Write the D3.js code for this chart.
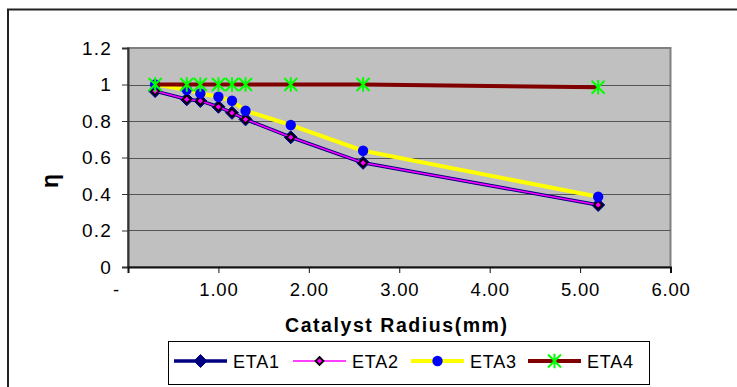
<!DOCTYPE html>
<html>
<head>
<meta charset="utf-8">
<script src="https://cdn.jsdelivr.net/npm/d3@7"></script>
<style>
  html, body { margin: 0; padding: 0; background: #fff; }
  svg { display: block; font-family: Arial, "Liberation Sans", sans-serif; }
</style>
</head>
<body>
<div id="chart"></div>
<script>
// data
const radius = [0.3, 0.65, 0.8, 1.0, 1.15, 1.3, 1.8, 2.6, 5.2];
const eta1 = [0.964, 0.919, 0.91, 0.878, 0.845, 0.809, 0.711, 0.571, 0.34];
const eta2 = [0.964, 0.919, 0.91, 0.878, 0.845, 0.809, 0.711, 0.571, 0.34];
const eta3 = [1.0, 0.971, 0.951, 0.933, 0.911, 0.856, 0.778, 0.637, 0.385];
const eta4 = [1.0, 1.0, 1.0, 1.0, 1.0, 1.0, 1.0, 1.0, 0.985];
const seriesNames = ['ETA1', 'ETA2', 'ETA3', 'ETA4'];
const yTicks = [0, 0.2, 0.4, 0.6, 0.8, 1.0, 1.2];
const xTicks = [0, 1, 2, 3, 4, 5, 6];

const width = 737;
const height = 387;

const svg = d3.select('#chart')
  .append('svg')
  .attr('width', width)
  .attr('height', height);

// outer chart border (cut off right and bottom)
svg.append('rect')
  .attr('x', 8).attr('y', 9.5)
  .attr('width', 760).attr('height', 400)
  .attr('fill', '#fff')
  .attr('stroke', '#222')
  .attr('stroke-width', 2);

const x = d3.scaleLinear().domain([0, 6]).range([128, 670.5]);
const y = d3.scaleLinear().domain([0, 1.2]).range([267, 48]);

// plot area
svg.append('rect')
  .attr('x', x(0)).attr('y', y(1.2))
  .attr('width', x(6) - x(0)).attr('height', y(0) - y(1.2))
  .attr('fill', '#c0c0c0')
  .attr('stroke', '#808080')
  .attr('stroke-width', 2);

// gridlines
svg.append('g')
  .selectAll('line')
  .data(yTicks.filter(d => d > 0 && d < 1.2))
  .join('line')
  .attr('x1', x(0)).attr('x2', x(6))
  .attr('y1', d => Math.round(y(d)) + 0.5)
  .attr('y2', d => Math.round(y(d)) + 0.5)
  .attr('stroke', '#555')
  .attr('stroke-width', 1);

// axes
const yAxis = svg.append('g')
  .attr('transform', `translate(${x(0)},0)`)
  .call(d3.axisLeft(y).tickValues(yTicks).tickSize(6).tickPadding(10)
    .tickFormat(d => d === 0 ? '0' : d3.format('~g')(d)));
yAxis.select('.domain').attr('stroke', '#333').attr('stroke-width', 2);
yAxis.selectAll('.tick line').attr('stroke', '#333');
yAxis.selectAll('.tick text')
  .attr('font-size', 19)
  .attr('letter-spacing', 1.2)
  .attr('fill', '#000');

const xAxis = svg.append('g')
  .attr('transform', `translate(0,${y(0)})`)
  .call(d3.axisBottom(x).tickValues(xTicks).tickSize(6).tickPadding(10)
    .tickFormat(d => d === 0 ? '-' : d.toFixed(2)));
xAxis.select('.domain').attr('stroke', '#111').attr('stroke-width', 2);
xAxis.selectAll('.tick line').attr('stroke', '#111');
xAxis.selectAll('.tick text')
  .attr('font-size', 18.5)
  .attr('letter-spacing', 0.8)
  .attr('fill', '#000')
  .attr('dx', d => d === 0 ? -12 : 0);

// axis titles
svg.append('text')
  .attr('x', 285).attr('y', 332)
  .attr('font-size', 19.5)
  .attr('font-weight', 'bold')
  .attr('textLength', 222)
  .attr('lengthAdjust', 'spacing')
  .text('Catalyst Radius(mm)');

svg.append('text')
  .attr('transform', 'translate(58,181) rotate(-90)')
  .attr('text-anchor', 'middle')
  .attr('font-size', 23)
  .attr('font-weight', 'bold')
  .text('η');

// series styles
const styles = [
  { name: seriesNames[0], values: eta1, line: '#000080', lw: 3.5, marker: 'diamond', size: 6.5, fill: '#000080', stroke: '#000080' },
  { name: seriesNames[1], values: eta2, line: '#ff00ff', lw: 1.6, marker: 'diamond', size: 4, fill: '#ff00ff', stroke: '#000' },
  { name: seriesNames[2], values: eta3, line: '#ffff00', lw: 4, marker: 'circle', size: 5.2, fill: '#0000ff', stroke: '#0000ff' },
  { name: seriesNames[3], values: eta4, line: '#800000', lw: 4, marker: 'star', size: 6.5, fill: 'none', stroke: '#00ff00' }
];

const line = d3.line()
  .x(d => x(d[0]))
  .y(d => y(d[1]));

function drawMarker(g, s, cx, cy) {
  if (s.marker === 'diamond') {
    const r = s.size;
    g.append('path')
      .attr('d', `M${cx},${cy - r}L${cx + r},${cy}L${cx},${cy + r}L${cx - r},${cy}Z`)
      .attr('fill', s.fill)
      .attr('stroke', s.stroke)
      .attr('stroke-width', s.stroke === '#000' ? 1.8 : 1);
  } else if (s.marker === 'circle') {
    g.append('circle')
      .attr('cx', cx).attr('cy', cy).attr('r', s.size)
      .attr('fill', s.fill);
  } else {
    const r = s.size;
    g.append('path')
      .attr('d', `M${cx - r},${cy - r}L${cx + r},${cy + r}M${cx - r},${cy + r}L${cx + r},${cy - r}M${cx},${cy - r * 1.1}L${cx},${cy + r * 1.1}`)
      .attr('stroke', s.stroke)
      .attr('stroke-width', 2)
      .attr('fill', 'none');
  }
}

const plot = svg.append('g');
styles.forEach(s => {
  const pts = radius.map((r, i) => [r, s.values[i]]);
  const g = plot.append('g');
  g.append('path')
    .attr('d', line(pts))
    .attr('fill', 'none')
    .attr('stroke', s.line)
    .attr('stroke-width', s.lw)
    .attr('stroke-linejoin', 'round');
  pts.forEach(p => drawMarker(g, s, x(p[0]), y(p[1])));
});

// legend
const legend = svg.append('g');
legend.append('rect')
  .attr('x', 168.5).attr('y', 341.5)
  .attr('width', 481).attr('height', 43)
  .attr('fill', '#fff')
  .attr('stroke', '#000')
  .attr('stroke-width', 1);

const legendX = [174, 293, 411, 528];
styles.forEach((s, i) => {
  const lx = legendX[i];
  const ly = 361;
  const g = legend.append('g');
  g.append('line')
    .attr('x1', lx).attr('x2', lx + 53)
    .attr('y1', ly).attr('y2', ly)
    .attr('stroke', s.line)
    .attr('stroke-width', s.lw);
  drawMarker(g, s, lx + 26.5, ly);
  g.append('text')
    .attr('x', lx + 59).attr('y', ly + 6.5)
    .attr('font-size', 18)
    .attr('letter-spacing', 0.8)
    .text(s.name);
});
</script>
</body>
</html>
